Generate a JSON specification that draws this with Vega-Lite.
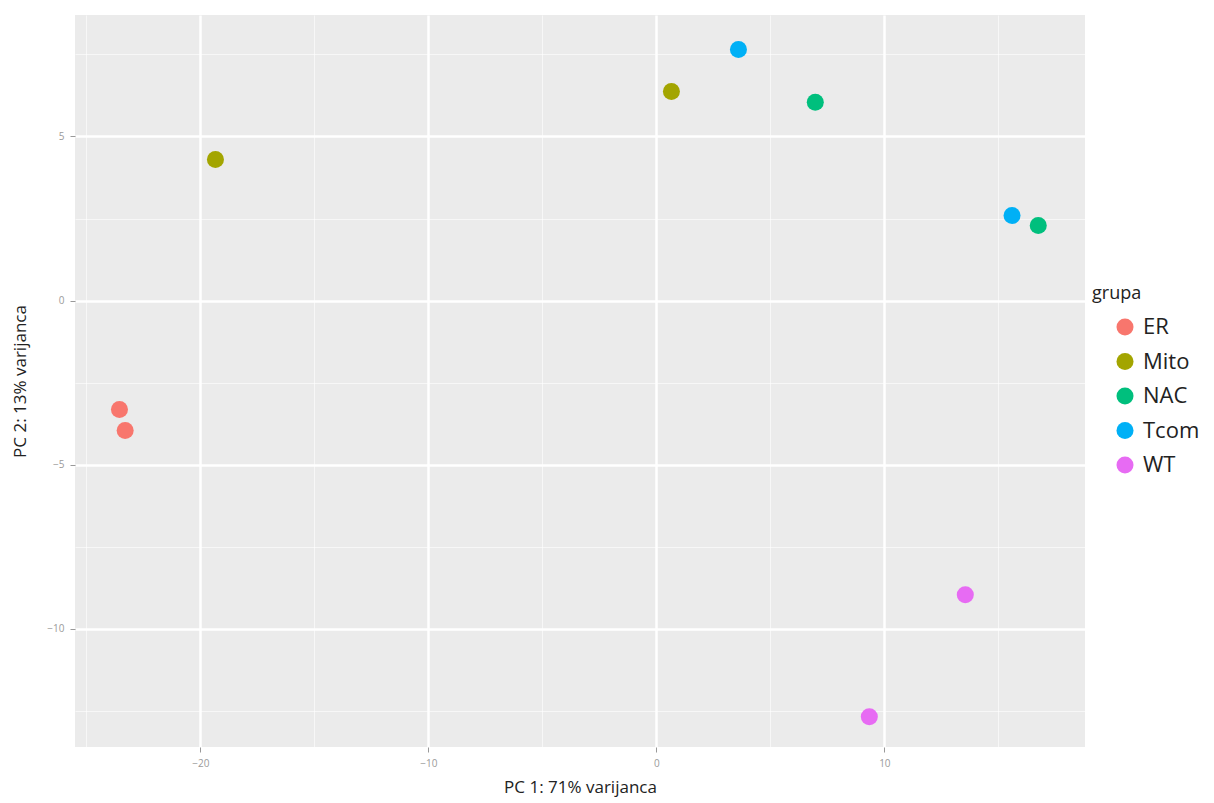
{
  "$schema": "https://vega.github.io/schema/vega-lite/v6.json",
  "width": 1010,
  "height": 732,
  "autosize": {"type": "none"},
  "padding": {"left": 75, "top": 15, "right": 129, "bottom": 56},
  "background": "white",
  "config": {
    "view": {"fill": "#EBEBEB", "stroke": null},
    "font": "Open Sans"
  },
  "data": {
    "values": [
      {"pc1": -23.55, "pc2": -3.32, "grupa": "ER"},
      {"pc1": -23.3, "pc2": -3.96, "grupa": "ER"},
      {"pc1": -19.34, "pc2": 4.3, "grupa": "Mito"},
      {"pc1": 0.66, "pc2": 6.37, "grupa": "Mito"},
      {"pc1": 6.97, "pc2": 6.04, "grupa": "NAC"},
      {"pc1": 16.75, "pc2": 2.29, "grupa": "NAC"},
      {"pc1": 3.6, "pc2": 7.65, "grupa": "Tcom"},
      {"pc1": 15.6, "pc2": 2.59, "grupa": "Tcom"},
      {"pc1": 13.55, "pc2": -8.96, "grupa": "WT"},
      {"pc1": 9.34, "pc2": -12.68, "grupa": "WT"}
    ]
  },
  "mark": {"type": "point", "filled": true, "size": 290, "opacity": 1, "shape": "circle"},
  "encoding": {
    "x": {
      "field": "pc1",
      "type": "quantitative",
      "scale": {"domain": [-25.5, 18.8], "nice": false, "zero": false},
      "axis": {
        "title": "PC 1: 71% varijanca",
        "values": [-25, -20, -15, -10, -5, 0, 5, 10, 15],
        "labelExpr": "datum.value % 10 === 0 ? datum.label : ''",
        "domain": false,
        "grid": true,
        "gridColor": "white",
        "gridWidth": {"condition": {"test": "datum.value % 10 === 0", "value": 2.5}, "value": 1},
        "gridOpacity": {"condition": {"test": "datum.value % 10 === 0", "value": 1}, "value": 0.6},
        "tickColor": "#999999",
        "tickSize": 5,
        "tickOpacity": {"condition": {"test": "datum.value % 10 === 0", "value": 1}, "value": 0},
        "labelColor": "#9a9a9a",
        "labelFontSize": 10,
        "labelPadding": 6,
        "titleFontSize": 17,
        "titleFontWeight": "normal",
        "titleColor": "#222222",
        "titlePadding": 11,
        "titleFont": "Open Sans"
      }
    },
    "y": {
      "field": "pc2",
      "type": "quantitative",
      "scale": {"domain": [-13.6, 8.7], "nice": false, "zero": false},
      "axis": {
        "title": "PC 2: 13% varijanca",
        "values": [-12.5, -10, -7.5, -5, -2.5, 0, 2.5, 5, 7.5],
        "labelExpr": "datum.value % 5 === 0 ? datum.label : ''",
        "domain": false,
        "grid": true,
        "gridColor": "white",
        "gridWidth": {"condition": {"test": "datum.value % 5 === 0", "value": 2.5}, "value": 1},
        "gridOpacity": {"condition": {"test": "datum.value % 5 === 0", "value": 1}, "value": 0.6},
        "tickColor": "#999999",
        "tickSize": 5,
        "tickOpacity": {"condition": {"test": "datum.value % 5 === 0", "value": 1}, "value": 0},
        "labelColor": "#9a9a9a",
        "labelFontSize": 10,
        "labelPadding": 6,
        "titleFontSize": 17,
        "titleFontWeight": "normal",
        "titleColor": "#222222",
        "titlePadding": 17,
        "titleFont": "Open Sans"
      }
    },
    "color": {
      "field": "grupa",
      "type": "nominal",
      "scale": {
        "domain": ["ER", "Mito", "NAC", "Tcom", "WT"],
        "range": ["#F8766D", "#A3A500", "#00BF7D", "#00B0F6", "#E76BF3"]
      },
      "legend": {
        "orient": "none",
        "legendX": 1017,
        "legendY": 270,
        "title": "grupa",
        "titleFontSize": 18,
        "titleFontWeight": "normal",
        "titleColor": "#222222",
        "titleFont": "Open Sans",
        "titlePadding": 13,
        "labelFontSize": 22,
        "labelColor": "#222222",
        "labelFont": "Open Sans",
        "symbolType": "circle",
        "symbolSize": 290,
        "symbolStrokeWidth": 0,
        "symbolOpacity": 1,
        "symbolOffset": 22,
        "rowPadding": 12.5,
        "labelOffset": 7,
        "padding": 0,
        "offset": 0
      }
    }
  }
}
